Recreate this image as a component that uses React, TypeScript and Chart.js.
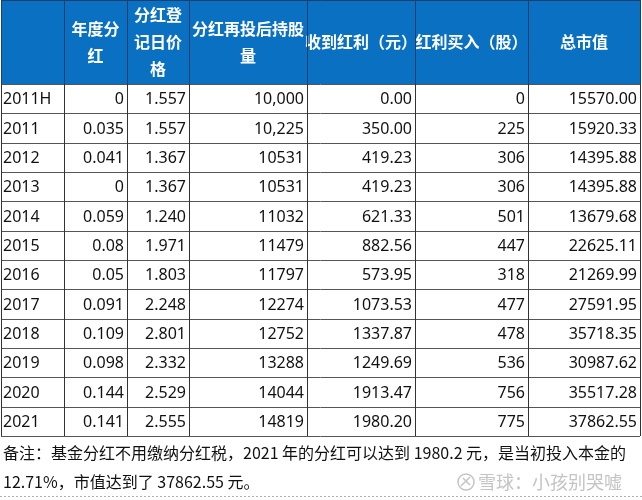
import React, { useEffect, useRef } from "react";
import { Chart, registerables } from "chart.js";

Chart.register(...registerables);

// ---- data ----
const years = ["2011H", "2011", "2012", "2013", "2014", "2015", "2016", "2017", "2018", "2019", "2020", "2021"];
const dividend = [0, 0.035, 0.041, 0, 0.059, 0.08, 0.05, 0.091, 0.109, 0.098, 0.144, 0.141];
const regPrice = [1.557, 1.557, 1.367, 1.367, 1.24, 1.971, 1.803, 2.248, 2.801, 2.332, 2.529, 2.555];
const shares = [10000, 10225, 10531, 10531, 11032, 11479, 11797, 12274, 12752, 13288, 14044, 14819];
const received = [0, 350, 419.23, 419.23, 621.33, 882.56, 573.95, 1073.53, 1337.87, 1249.69, 1913.47, 1980.2];
const bought = [0, 225, 306, 306, 501, 447, 318, 477, 478, 536, 756, 775];
const totalValue = [15570.0, 15920.33, 14395.88, 14395.88, 13679.68, 22625.11, 21269.99, 27591.95, 35718.35, 30987.62, 35517.28, 37862.55];
const headers = ["", "年度分\n红", "分红登\n记日价\n格", "分红再投后持股\n量", "收到红利（元）", "红利买入（股）", "总市值"];
const noteLine1 = "备注：基金分红不用缴纳分红税，2021 年的分红可以达到 1980.2 元，是当初投入本金的";
const noteLine2 = "12.71%，市值达到了 37862.55 元。";
const watermark = "雪球：小孩别哭嘘";

// ---- layout (column edges on the x scale, in scale units) ----
const colEdges = [1, 64, 127, 189, 307, 415, 528, 640];

function cellText(col: number, i: number): string {
  switch (col) {
    case 0: return years[i];
    case 1: return String(dividend[i]);
    case 2: return regPrice[i].toFixed(3);
    case 3: return i < 2 ? shares[i].toLocaleString("en-US") : String(shares[i]);
    case 4: return received[i].toFixed(2);
    case 5: return String(bought[i]);
    default: return totalValue[i].toFixed(2);
  }
}

const tablePlugin = {
  id: "tablePlugin",
  afterDraw(chart: any) {
    const ctx = chart.ctx as CanvasRenderingContext2D;
    const xs = chart.scales.x;
    const ys = chart.scales.y;
    const area = chart.chartArea;
    const W = chart.width;
    const H = chart.height;
    const ex = colEdges.map((e) => Math.round(xs.getPixelForValue(e)));
    const rowH = (area.bottom - area.top) / years.length;
    const headTop = 0;
    const headBottom = area.top;

    ctx.save();
    // header background
    ctx.fillStyle = "#0a70c2";
    ctx.fillRect(ex[0], headTop, ex[ex.length - 1] - ex[0], headBottom - headTop);

    // header text
    ctx.fillStyle = "#ffffff";
    ctx.font = "bold 16px 'Noto Sans CJK SC', sans-serif";
    ctx.textAlign = "center";
    ctx.textBaseline = "middle";
    const headMid = (headTop + headBottom) / 2;
    headers.forEach((h, c) => {
      const lines = h.split("\n");
      const lh = 27;
      const cx = (ex[c] + ex[c + 1]) / 2;
      lines.forEach((ln, k) => {
        const y = headMid + (k - (lines.length - 1) / 2) * lh;
        ctx.fillText(ln, cx, y);
      });
    });

    // body text
    ctx.fillStyle = "#111111";
    ctx.font = "16px 'Noto Sans', sans-serif";
    years.forEach((_, i) => {
      const cy = ys.getPixelForValue(i) + 1;
      for (let c = 0; c < headers.length; c++) {
        const t = cellText(c, i);
        if (c === 0) {
          ctx.textAlign = "left";
          ctx.fillText(t, ex[0] + 2, cy);
        } else {
          ctx.textAlign = "right";
          ctx.fillText(t, ex[c + 1] - 3, cy);
        }
      }
    });

    // grid lines
    ctx.lineWidth = 1;
    // header borders
    ctx.strokeStyle = "#1d3f70";
    ctx.beginPath();
    ctx.moveTo(ex[0], 0.5);
    ctx.lineTo(ex[ex.length - 1], 0.5);
    for (let c = 0; c < ex.length; c++) {
      ctx.moveTo(ex[c] + 0.5, headTop);
      ctx.lineTo(ex[c] + 0.5, headBottom);
    }
    ctx.stroke();

    // horizontal body lines
    ctx.strokeStyle = "#555555";
    ctx.beginPath();
    for (let r = 0; r <= years.length; r++) {
      const y = Math.round(area.top + r * rowH) + 0.5;
      ctx.moveTo(ex[0], y);
      ctx.lineTo(ex[ex.length - 1], y);
    }
    ctx.stroke();
    // vertical body lines
    ctx.strokeStyle = "#333333";
    ctx.beginPath();
    for (let c = 0; c < ex.length; c++) {
      ctx.moveTo(ex[c] + 0.5, headBottom);
      ctx.lineTo(ex[c] + 0.5, area.bottom);
    }
    ctx.stroke();

    // note
    ctx.fillStyle = "#111111";
    ctx.textAlign = "left";
    ctx.textBaseline = "middle";
    ctx.font = "16px 'Noto Sans CJK SC', sans-serif";
    ctx.fillText(noteLine1, 3, area.bottom + 17);
    ctx.fillText(noteLine2, 3, area.bottom + 46);

    // watermark
    ctx.fillStyle = "#c4c4c4";
    ctx.strokeStyle = "#c4c4c4";
    ctx.lineWidth = 1.5;
    ctx.beginPath();
    ctx.arc(466, area.bottom + 46, 8, 0, Math.PI * 2);
    ctx.stroke();
    ctx.beginPath();
    ctx.moveTo(461, area.bottom + 50);
    ctx.lineTo(470, area.bottom + 41);
    ctx.moveTo(463, area.bottom + 42);
    ctx.lineTo(470, area.bottom + 49);
    ctx.stroke();
    ctx.font = "18px 'Noto Sans CJK SC', sans-serif";
    ctx.fillText(watermark, 478, area.bottom + 46);

    // dashed bottom line
    ctx.strokeStyle = "#b0b0b0";
    ctx.lineWidth = 1;
    ctx.setLineDash([2, 2]);
    ctx.beginPath();
    ctx.moveTo(0, H - 3.5);
    ctx.lineTo(W, H - 3.5);
    ctx.stroke();
    ctx.setLineDash([]);
    ctx.restore();
  },
};

const bgPlugin = {
  id: "bgWhite",
  beforeDraw(chart: any) {
    const ctx = chart.ctx;
    ctx.save();
    ctx.fillStyle = "#ffffff";
    ctx.fillRect(0, 0, chart.width, chart.height);
    ctx.restore();
  },
};

export default function App() {
  const ref = useRef<HTMLCanvasElement | null>(null);
  useEffect(() => {
    document.body.style.margin = "0";
    if (!ref.current) return;
    const chart = new Chart(ref.current, {
      type: "bar",
      data: {
        labels: years,
        datasets: [
          {
            label: "总市值",
            data: totalValue,
            backgroundColor: "rgba(0,0,0,0)",
            borderWidth: 0,
          },
        ],
      },
      options: {
        indexAxis: "y",
        animation: false,
        responsive: false,
        events: [],
        layout: { padding: { top: 84, bottom: 64, left: 0, right: 0 } },
        plugins: { legend: { display: false }, tooltip: { enabled: false }, title: { display: false } },
        scales: {
          x: { type: "linear", min: 0, max: 642, display: false },
          y: { type: "category", display: false, offset: true },
        },
      },
      plugins: [bgPlugin, tablePlugin],
    } as any);
    return () => chart.destroy();
  }, []);
  return (
    <div style={{ position: "absolute", left: 0, top: 0, width: 642, height: 500 }}>
      <canvas ref={ref} width={642} height={500} />
    </div>
  );
}
